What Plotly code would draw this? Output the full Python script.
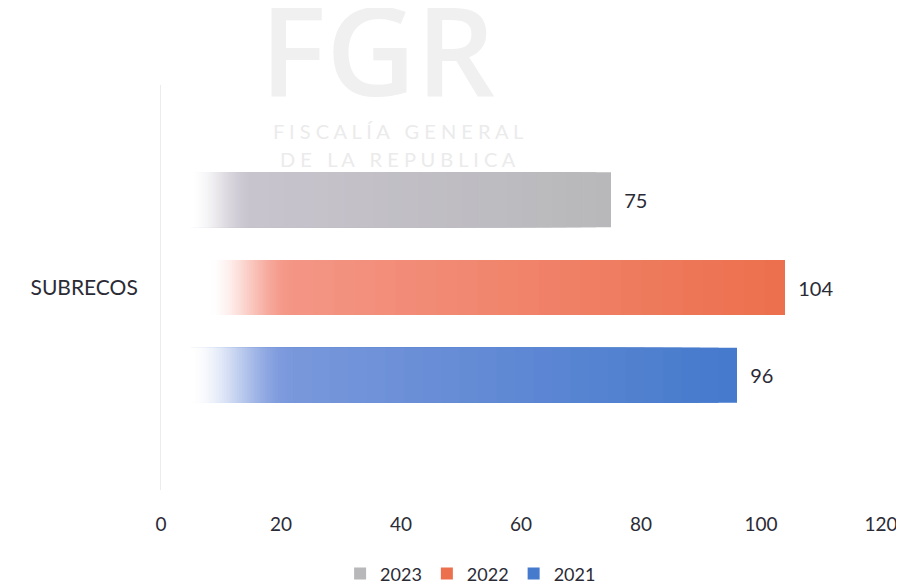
import numpy as np
import plotly.graph_objects as go

# ---- data ----
categories = ["SUBRECOS"]
series_names = ["2021", "2022", "2023"]
values_2021 = [96]
values_2022 = [104]
values_2023 = [75]
x_tick_values = [0, 20, 40, 60, 80, 100, 120]
x_tick_labels = ["0", "20", "40", "60", "80", "100", "120"]

series_values = {"2021": values_2021, "2022": values_2022, "2023": values_2023}

# ---- style ----
FONT = "Lato, 'Open Sans', sans-serif"
TEXT_COLOR = "#2b2b36"
style = {
    "2023": dict(left=(200, 196, 206), right=(184, 184, 186), fade=(5.0, 15.5)),
    "2022": dict(left=(244, 150, 134), right=(236, 112, 78), fade=(8.0, 22.0)),
    "2021": dict(left=(122, 152, 220), right=(70, 122, 204), fade=(5.0, 22.0)),
}


def rgb(c):
    return f"rgb({int(round(c[0]))},{int(round(c[1]))},{int(round(c[2]))})"


def mix(c1, c2, t):
    return tuple(c1[i] + (c2[i] - c1[i]) * t for i in range(3))


WHITE = (255, 255, 255)
fig = go.Figure()

for name in series_names:
    st = style[name]
    for v in series_values[name]:
        f0, f1 = st["fade"]
        # segment right edges, from the bar end back to the fade start;
        # each segment is drawn from f0 to its right edge, later ones on top
        body_edges = list(np.linspace(v, f1, 25))
        fade_edges = list(np.linspace(f1, f0, 41))[1:]
        ends, colors = [], []
        for e in body_edges:
            t = (e - f1) / (v - f1)
            ends.append(e)
            colors.append(rgb(mix(st["left"], st["right"], t)))
        n = len(fade_edges)
        for i, e in enumerate(fade_edges):
            s = 1 - (i + 1) / n
            a = s * s * (3 - 2 * s)
            ends.append(e)
            colors.append(rgb(mix(WHITE, st["left"], a)))
        widths = [e - f0 for e in ends]
        starts = [f0] * len(ends)
        texts = ["\u00a0\u00a0" + str(v)] + [""] * (len(ends) - 1)
        tpos = ["outside"] + ["none"] * (len(ends) - 1)

        fig.add_trace(go.Bar(
            name=name,
            orientation="h",
            y=categories * len(ends),
            x=widths,
            base=starts,
            marker=dict(color=colors, line=dict(width=0)),
            text=texts,
            textposition=tpos,
            textfont=dict(family=FONT, size=20, color=TEXT_COLOR),
            cliponaxis=False,
            hoverinfo="skip",
        ))

fig.update_layout(
    width=896,
    height=578,
    paper_bgcolor="white",
    plot_bgcolor="white",
    barmode="group",
    bargap=0.35,
    bargroupgap=0.375,
    margin=dict(l=153, r=23, t=77, b=96, autoexpand=False),
    font=dict(family=FONT, size=18, color=TEXT_COLOR),
    showlegend=True,
    legend=dict(
        orientation="h",
        x=0.43, xanchor="center",
        y=-0.207, yanchor="middle",
        traceorder="reversed",
        font=dict(family=FONT, size=18, color=TEXT_COLOR),
        itemwidth=30,
        itemsizing="constant",
    ),
    xaxis=dict(
        range=[0, 120],
        tickvals=x_tick_values,
        ticktext=x_tick_labels,
        showgrid=False,
        zeroline=False,
        showline=False,
        ticks="",
        automargin=False,
        ticklabelstandoff=21,
        tickfont=dict(family=FONT, size=19, color=TEXT_COLOR),
        fixedrange=True,
    ),
    yaxis=dict(
        showgrid=False,
        zeroline=False,
        showline=True,
        linecolor="#ececec",
        linewidth=1,
        ticks="",
        automargin=False,
        ticklabelstandoff=18,
        tickfont=dict(family=FONT, size=21, color=TEXT_COLOR),
        fixedrange=True,
    ),
)

# watermark
fig.add_annotation(text="FGR", xref="paper", yref="paper", x=0.30, y=1.092,
                   xanchor="center", yanchor="middle", showarrow=False,
                   font=dict(family="'Open Sans', sans-serif", size=124, color="#f0f0f0",
                             weight=600))
fig.add_annotation(text="F I S C A L Í A   G E N E R A L", xref="paper", yref="paper",
                   x=0.329, y=0.887, xanchor="center", yanchor="middle", showarrow=False,
                   font=dict(family=FONT, size=20, color="#ebebeb"))
fig.add_annotation(text="D E   L A   R E P U B L I C A", xref="paper", yref="paper",
                   x=0.329, y=0.818, xanchor="center", yanchor="middle", showarrow=False,
                   font=dict(family=FONT, size=20, color="#ebebeb"))

fig.write_html("out.html")
